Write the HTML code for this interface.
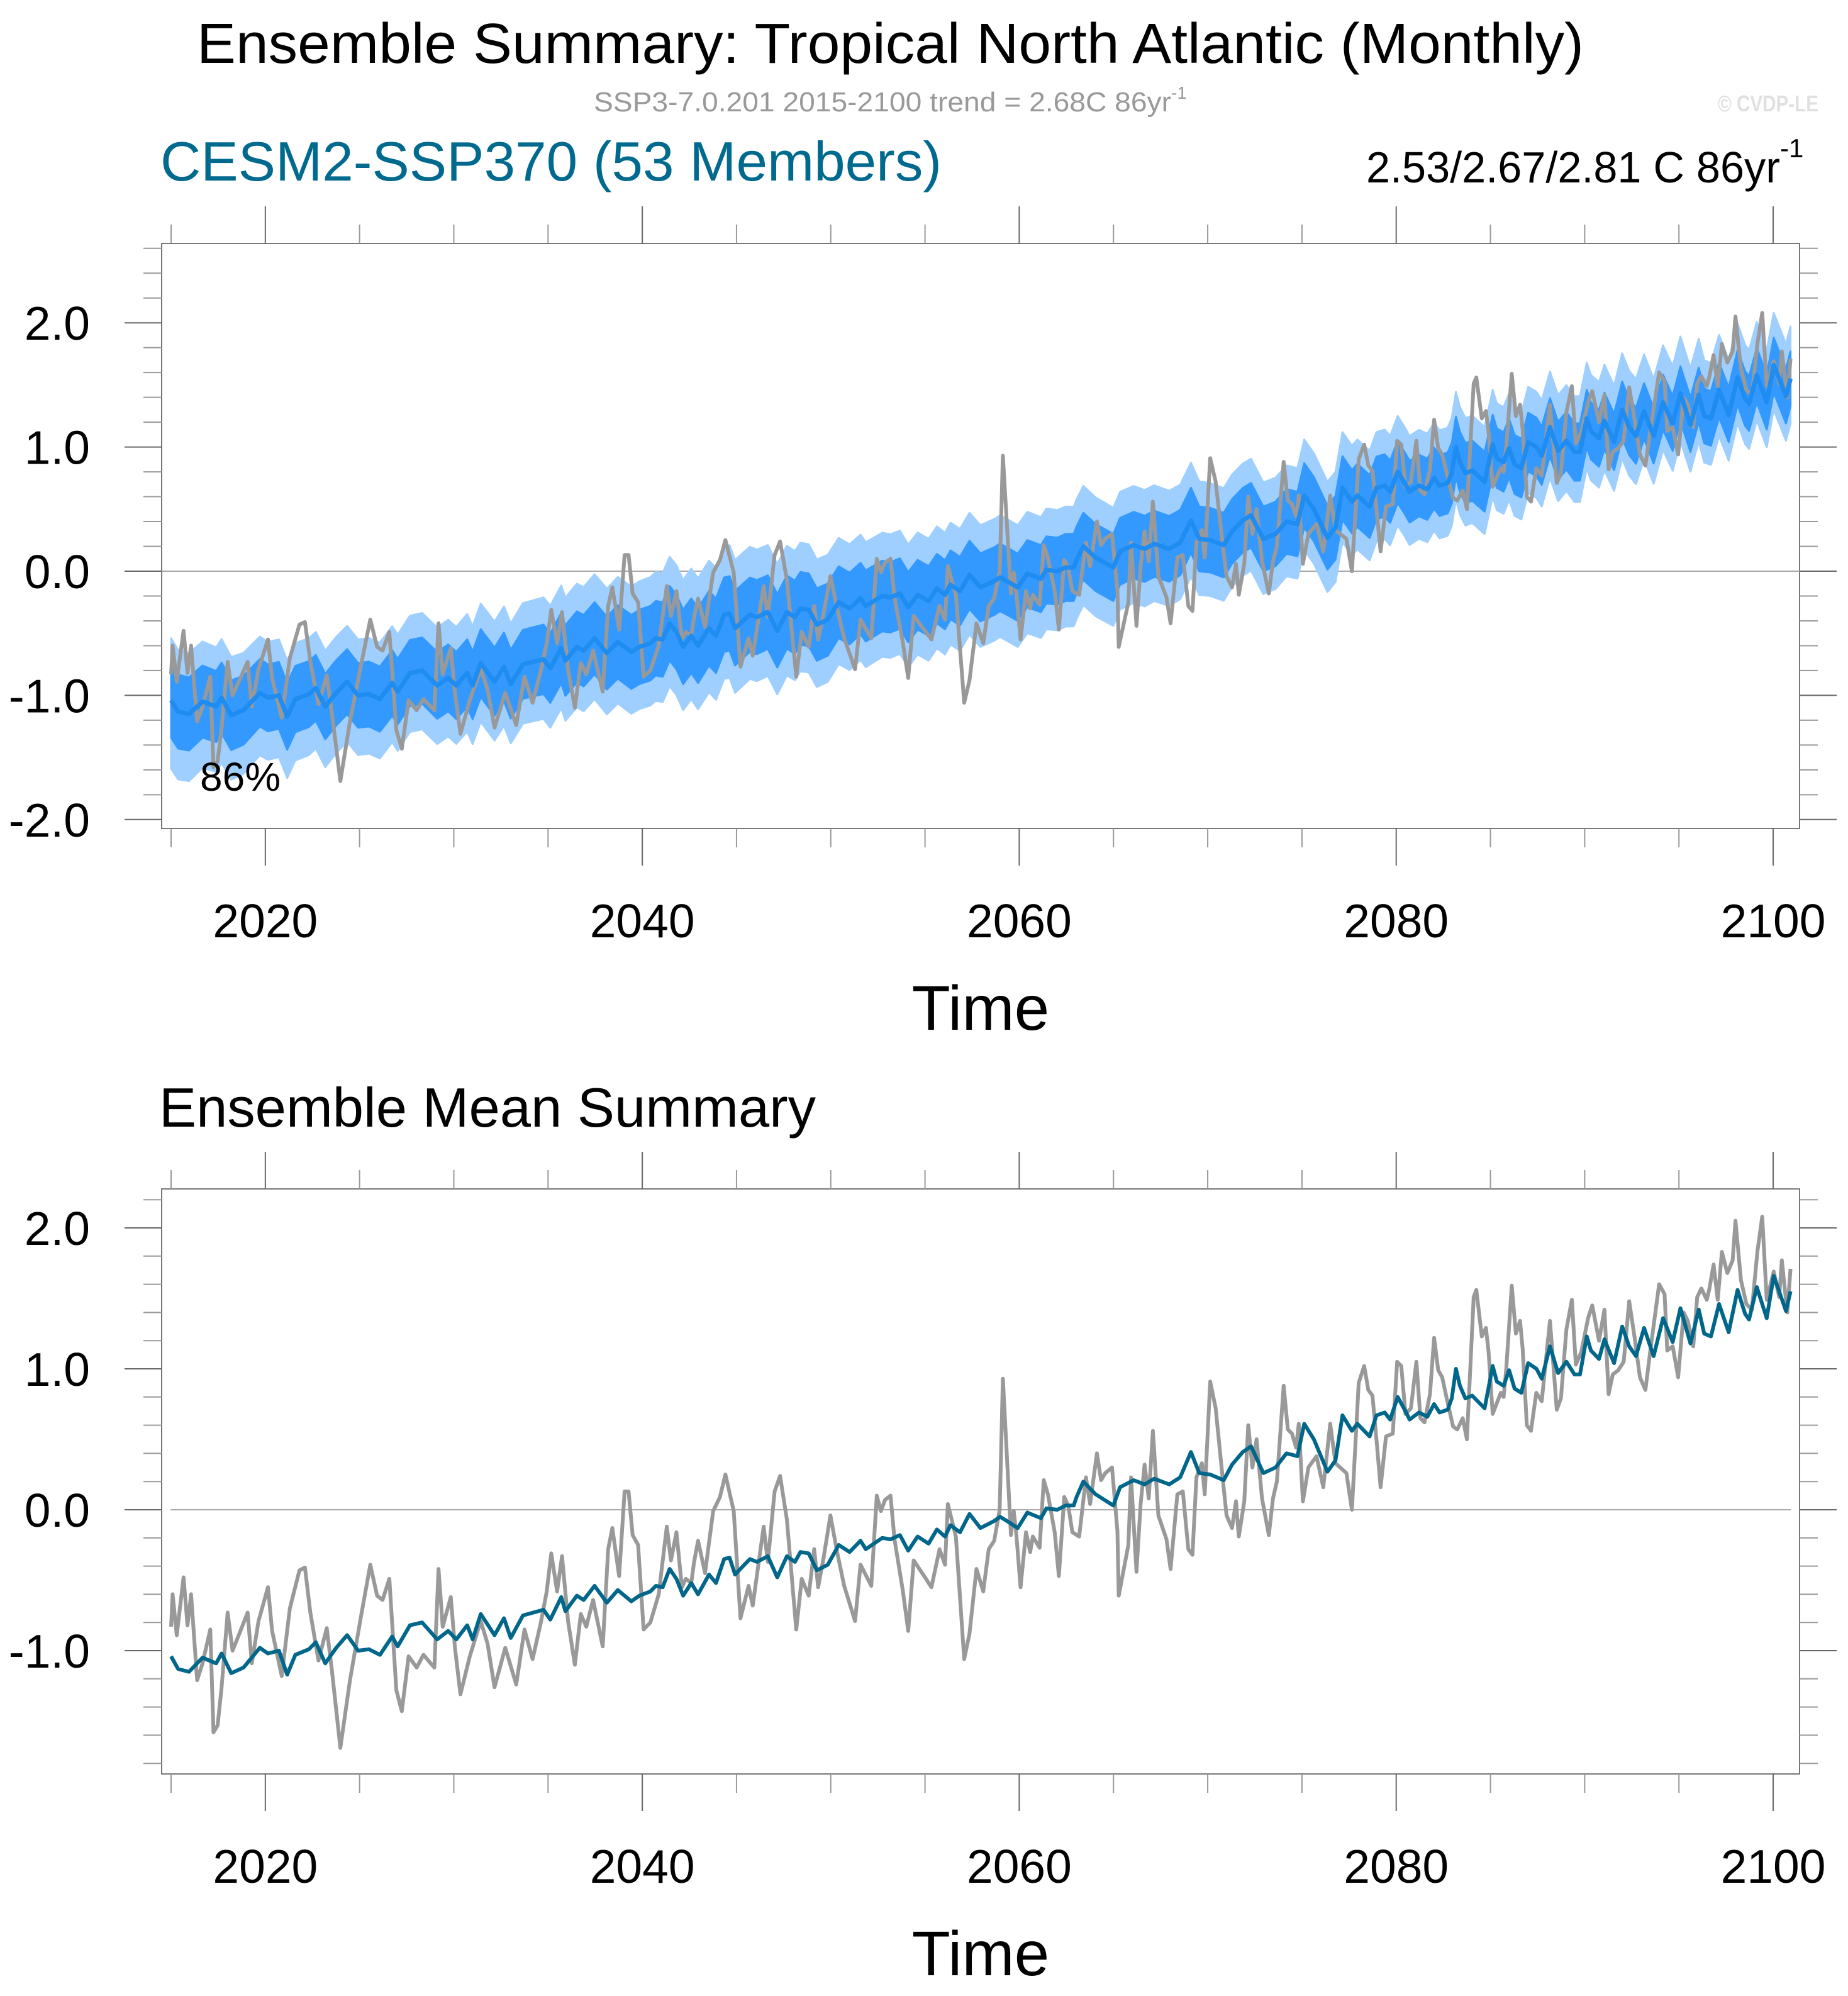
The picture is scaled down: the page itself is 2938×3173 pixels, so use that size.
<!DOCTYPE html>
<html><head><meta charset="utf-8">
<style>
html,body{margin:0;padding:0;background:#fff;}
svg{display:block;font-family:"Liberation Sans",Arial,sans-serif;}
</style></head>
<body>
<svg id="chart" xmlns="http://www.w3.org/2000/svg" width="2938" height="3173" viewBox="0 0 2938 3173">
  <rect x="0" y="0" width="2938" height="3173" fill="#fff"/>
  <text x="313" y="100" font-size="90" textLength="2205" lengthAdjust="spacingAndGlyphs" fill="#000">Ensemble Summary: Tropical North Atlantic (Monthly)</text>
  <text x="944" y="177" font-size="44" fill="#999"><tspan textLength="918" lengthAdjust="spacingAndGlyphs">SSP3-7.0.201 2015-2100 trend = 2.68C 86yr</tspan><tspan font-size="28" dy="-20">-1</tspan></text>
  <text x="2731" y="177" font-size="36" font-weight="bold" fill="#e0e0e0" textLength="160" lengthAdjust="spacingAndGlyphs">© CVDP-LE</text>
  <text x="255" y="287" font-size="88" textLength="1242" lengthAdjust="spacingAndGlyphs" fill="#006a8e">CESM2-SSP370 (53 Members)</text>
  <text x="2172" y="290" font-size="70" fill="#000"><tspan textLength="658" lengthAdjust="spacingAndGlyphs">2.53/2.67/2.81 C 86yr</tspan><tspan font-size="42" dy="-40">-1</tspan></text>
  <text x="253" y="1791" font-size="88" textLength="1044" lengthAdjust="spacingAndGlyphs" fill="#000">Ensemble Mean Summary</text>
  <g id="top"></g>
  <g id="bot"></g>
</svg>
<script>
// ---- data ----
const obsYears = [2015.00,2015.08,2015.30,2015.44,2015.66,2015.87,2016.06,2016.38,2016.67,2017.08,2017.25,2017.47,2017.68,2018.00,2018.26,2018.62,2019.06,2019.28,2019.64,2020.14,2020.36,2020.87,2021.30,2021.81,2022.10,2022.39,2022.82,2023.26,2023.54,2023.98,2024.49,2025.06,2025.57,2025.93,2026.22,2026.58,2026.95,2027.24,2027.60,2028.03,2028.39,2028.97,2029.19,2029.41,2029.84,2030.06,2030.35,2030.85,2031.43,2031.79,2032.16,2032.73,2033.31,2033.75,2034.18,2034.62,2034.93,2035.17,2035.48,2035.74,2036.06,2036.42,2036.74,2037.03,2037.39,2037.90,2038.19,2038.41,2038.77,2039.06,2039.27,2039.49,2039.78,2040.07,2040.43,2040.87,2041.30,2041.52,2041.81,2042.10,2042.31,2042.60,2042.75,2042.96,2043.33,2043.76,2044.12,2044.41,2044.85,2045.21,2045.64,2045.86,2046.44,2046.66,2047.02,2047.31,2047.67,2047.96,2048.17,2048.46,2048.83,2049.12,2049.33,2049.62,2049.98,2050.35,2050.71,2051.29,2051.58,2052.15,2052.44,2052.66,2052.88,2053.17,2053.38,2053.82,2054.11,2054.40,2054.90,2055.34,2055.77,2056.06,2056.21,2056.64,2057.08,2057.36,2057.73,2058.09,2058.38,2058.67,2058.96,2059.13,2059.35,2059.56,2059.71,2059.85,2060.07,2060.36,2060.58,2060.72,2061.08,2061.30,2061.52,2061.88,2062.10,2062.39,2062.60,2062.82,2063.18,2063.54,2063.76,2064.12,2064.34,2064.56,2064.92,2065.21,2065.28,2065.79,2065.93,2066.22,2066.44,2066.65,2066.87,2067.09,2067.38,2067.81,2068.03,2068.39,2068.68,2068.97,2069.19,2069.40,2069.69,2069.84,2070.13,2070.42,2070.71,2071.00,2071.29,2071.50,2071.65,2071.94,2072.15,2072.37,2072.59,2072.88,2073.24,2073.46,2073.67,2074.03,2074.25,2074.47,2074.69,2074.83,2075.05,2075.34,2075.77,2076.13,2076.50,2076.78,2077.36,2077.65,2078.01,2078.30,2078.52,2078.74,2078.95,2079.17,2079.46,2079.82,2080.05,2080.27,2080.49,2080.78,2081.07,2081.28,2081.50,2081.79,2082.01,2082.23,2082.44,2082.73,2083.02,2083.24,2083.53,2083.75,2084.11,2084.25,2084.54,2084.76,2084.90,2085.12,2085.55,2085.70,2085.84,2086.13,2086.35,2086.57,2086.71,2086.93,2087.15,2087.43,2087.72,2088.01,2088.16,2088.52,2088.74,2089.03,2089.32,2089.53,2089.82,2090.18,2090.40,2090.76,2091.05,2091.27,2091.49,2091.78,2092.07,2092.36,2092.64,2092.93,2093.22,2093.51,2093.95,2094.24,2094.38,2094.67,2094.96,2095.25,2095.47,2095.76,2095.97,2096.19,2096.48,2096.62,2096.84,2097.06,2097.28,2097.57,2097.85,2098.00,2098.29,2098.58,2098.87,2099.16,2099.42,2099.66,2100.03,2100.32,2100.46,2100.75,2100.92];
const obsVals = [-0.83,-0.60,-0.89,-0.73,-0.48,-0.82,-0.60,-1.21,-1.09,-0.85,-1.58,-1.53,-1.26,-0.73,-1.00,-0.88,-0.73,-1.09,-0.79,-0.55,-0.86,-1.18,-0.70,-0.43,-0.41,-0.73,-1.07,-0.84,-1.15,-1.69,-1.21,-0.77,-0.39,-0.61,-0.64,-0.49,-1.28,-1.43,-1.04,-1.12,-1.03,-1.12,-0.42,-0.83,-0.62,-0.98,-1.31,-1.04,-0.79,-0.95,-1.26,-0.98,-1.24,-0.85,-1.06,-0.80,-0.58,-0.31,-0.58,-0.33,-0.79,-1.10,-0.74,-0.83,-0.64,-0.97,-0.28,-0.13,-0.47,0.13,0.13,-0.18,-0.25,-0.85,-0.80,-0.60,-0.12,-0.36,-0.16,-0.55,-0.49,-0.52,-0.37,-0.22,-0.45,-0.01,0.09,0.25,-0.01,-0.77,-0.54,-0.68,-0.12,-0.37,0.13,0.24,-0.07,-0.52,-0.85,-0.49,-0.61,-0.28,-0.55,-0.34,-0.04,-0.31,-0.54,-0.79,-0.39,-0.54,0.10,-0.01,0.07,0.10,-0.21,-0.57,-0.86,-0.36,-0.46,-0.55,-0.28,-0.39,0.04,-0.19,-1.06,-0.88,-0.42,-0.58,-0.28,-0.22,0.00,0.93,0.37,-0.18,-0.01,-0.18,-0.55,-0.16,-0.30,-0.19,-0.27,0.21,0.11,-0.16,-0.47,0.09,0.03,-0.16,-0.19,0.23,0.04,0.40,0.21,0.26,0.30,-0.15,-0.61,-0.25,0.23,-0.44,0.04,0.32,0.08,0.56,-0.04,-0.21,-0.42,0.11,0.13,-0.28,-0.32,0.23,0.33,0.11,0.91,0.72,0.33,-0.04,-0.13,0.06,-0.19,0.06,0.60,0.30,0.50,0.08,-0.18,0.08,0.20,0.88,0.57,0.54,0.44,0.61,0.06,0.30,0.38,0.16,0.61,0.33,0.26,0.00,0.90,1.02,0.85,0.81,0.50,0.16,0.52,0.54,1.05,1.02,0.68,0.72,1.05,0.65,0.62,0.82,1.22,0.99,0.94,0.76,0.59,0.57,0.65,0.50,1.51,1.56,1.23,1.29,1.12,0.68,0.83,0.80,1.00,1.59,1.25,1.34,1.14,0.60,0.56,0.83,0.77,1.15,1.34,0.71,0.79,1.28,1.49,1.03,1.12,1.36,1.45,1.20,1.42,0.82,0.96,0.99,1.05,1.48,1.23,0.94,0.85,1.16,1.60,1.53,1.13,1.16,0.94,1.40,1.34,1.16,1.51,1.57,1.49,1.57,1.74,1.49,1.83,1.68,1.77,2.05,1.63,1.46,1.42,1.83,2.08,1.49,1.69,1.51,1.77,1.40,1.71];
const meanYears = [2015.00,2015.37,2015.95,2016.67,2017.39,2017.68,2018.19,2018.84,2019.71,2020.14,2020.72,2021.16,2021.59,2022.31,2022.68,2023.18,2023.76,2024.34,2024.92,2025.50,2026.08,2026.73,2027.02,2027.67,2028.32,2029.12,2029.70,2030.13,2030.71,2031.00,2031.43,2032.16,2032.66,2033.02,2033.67,2034.76,2035.12,2035.70,2035.92,2036.53,2036.89,2037.47,2038.12,2038.70,2039.42,2039.85,2040.43,2040.72,2041.08,2041.45,2041.81,2042.17,2042.60,2042.96,2043.54,2043.91,2044.34,2044.63,2044.92,2045.35,2045.71,2046.08,2046.66,2047.16,2047.67,2048.10,2048.39,2048.83,2049.26,2049.84,2050.42,2051.00,2051.58,2051.86,2052.73,2053.17,2053.67,2054.11,2054.61,2055.19,2055.63,2056.06,2056.35,2056.86,2057.36,2057.94,2058.67,2058.98,2059.35,2059.92,2060.43,2061.15,2061.44,2062.02,2062.46,2062.89,2063.04,2063.40,2064.05,2064.99,2065.35,2066.07,2066.65,2067.16,2067.96,2068.54,2069.11,2069.55,2070.13,2070.85,2071.29,2071.86,2072.30,2072.95,2073.60,2074.18,2074.76,2075.12,2075.63,2076.35,2076.78,2077.15,2077.65,2077.94,2078.59,2078.95,2079.39,2079.68,2080.08,2080.49,2080.71,2081.21,2081.65,2082.01,2082.30,2082.73,2082.95,2083.17,2083.38,2083.67,2084.03,2084.69,2085.12,2085.34,2085.70,2085.99,2086.28,2086.64,2087.00,2087.44,2087.72,2088.16,2088.59,2089.03,2089.46,2089.75,2090.11,2090.33,2090.76,2091.05,2091.56,2091.99,2092.36,2092.72,2093.15,2093.66,2094.16,2094.67,2095.08,2095.61,2096.05,2096.34,2096.70,2097.13,2097.64,2098.11,2098.51,2098.72,2099.13,2099.66,2100.03,2100.68,2100.92];
const meanVals = [-1.04,-1.13,-1.15,-1.05,-1.09,-1.02,-1.16,-1.12,-0.98,-1.02,-1.00,-1.17,-1.03,-0.99,-0.94,-1.09,-0.98,-0.89,-1.00,-0.99,-1.03,-0.90,-0.97,-0.82,-0.80,-0.92,-0.86,-0.92,-0.82,-0.92,-0.74,-0.89,-0.77,-0.91,-0.75,-0.71,-0.78,-0.62,-0.72,-0.61,-0.64,-0.54,-0.66,-0.57,-0.65,-0.61,-0.58,-0.54,-0.55,-0.42,-0.49,-0.61,-0.52,-0.60,-0.46,-0.52,-0.35,-0.34,-0.46,-0.40,-0.35,-0.37,-0.33,-0.48,-0.33,-0.37,-0.30,-0.31,-0.43,-0.39,-0.25,-0.30,-0.22,-0.28,-0.20,-0.21,-0.18,-0.29,-0.19,-0.24,-0.14,-0.19,-0.11,-0.16,-0.03,-0.13,-0.08,-0.05,-0.08,-0.13,-0.02,-0.06,0.01,0.00,0.03,0.03,0.09,0.20,0.11,0.03,0.16,0.21,0.18,0.22,0.18,0.23,0.41,0.26,0.25,0.21,0.32,0.41,0.45,0.26,0.30,0.40,0.38,0.61,0.50,0.27,0.35,0.67,0.56,0.61,0.52,0.67,0.69,0.64,0.80,0.70,0.64,0.69,0.66,0.75,0.69,0.71,0.79,1.00,0.88,0.79,0.81,0.72,1.02,0.91,0.88,0.99,0.86,0.83,1.04,1.00,0.93,1.16,0.97,1.05,0.96,0.96,1.23,1.13,1.07,1.21,1.04,1.30,1.16,1.09,1.29,1.09,1.36,1.19,1.43,1.18,1.42,1.25,1.23,1.46,1.26,1.56,1.39,1.35,1.58,1.36,1.66,1.41,1.55];
const spreadYears = [2015,2020,2025,2030,2035,2040,2045,2050,2055,2060,2065,2070,2075,2080,2085,2090,2095,2100];
const darkHalf = [0.30,0.27,0.26,0.27,0.28,0.30,0.30,0.29,0.28,0.27,0.27,0.26,0.26,0.25,0.24,0.23,0.22,0.22];
const lightUp = [0.50,0.45,0.45,0.47,0.50,0.53,0.55,0.52,0.50,0.50,0.48,0.46,0.45,0.45,0.44,0.45,0.46,0.42];
const lightDn = [0.55,0.50,0.48,0.47,0.48,0.50,0.52,0.50,0.48,0.48,0.47,0.45,0.44,0.43,0.42,0.40,0.38,0.36];
const xMajorTicks = [2020,2040,2060,2080,2100];
const yLabelsTop = ["-2.0","-1.0","0.0","1.0","2.0"];
const yLabelsBot = ["-1.0","0.0","1.0","2.0"];

const NS = "http://www.w3.org/2000/svg";
function mk(tag, attrs, parent){const e=document.createElementNS(NS,tag);for(const k in attrs)e.setAttribute(k,attrs[k]);parent.appendChild(e);return e;}
const X0=272, PX_PER_YR=29.965, LEFT=257, RIGHT=2861;
const xs = y => X0 + (y-2015)*PX_PER_YR;
function interp(yrs, vals, t){
  if(t<=yrs[0])return vals[0];
  for(let i=1;i<yrs.length;i++){if(t<=yrs[i]){const f=(t-yrs[i-1])/(yrs[i]-yrs[i-1]);return vals[i-1]+f*(vals[i]-vals[i-1]);}}
  return vals[vals.length-1];
}
function pathFrom(yrs, vals, ys){return yrs.map((t,i)=>(i?'L':'M')+xs(t).toFixed(1)+','+ys(vals[i]).toFixed(1)).join(' ');}

function panel(g, cfg){
  const ys = v => cfg.zeroY - v*cfg.pxPerUnit;
  const fr = mk('rect',{x:LEFT,y:cfg.top,width:RIGHT-LEFT,height:cfg.bottom-cfg.top,fill:'none',stroke:'#777','stroke-width':2},g);
  
  
  for(let k=Math.round(cfg.yMin*5); k<=Math.round(cfg.yMax*5); k++){
    const v=k/5, y=ys(v), major=(k%5===0);
    const t1=mk('line',{x1:major?198:228,x2:LEFT,y1:y,y2:y,stroke:major?'#666':'#999','stroke-width':2},g);
    
    
    const t2=mk('line',{x1:RIGHT,x2:major?2920:2890,y1:y,y2:y,stroke:major?'#666':'#999','stroke-width':2},g);
    
    
  }
  cfg.yLabels.forEach(lbl=>{
    const tx=mk('text',{x:143,y:ys(parseFloat(lbl))+27,'font-size':75,'text-anchor':'end',fill:'#000'},g);
    tx.textContent=lbl;
    
    
  });
  for(let yr=2015; yr<=2100; yr+=5){
    const x=xs(yr), major=xMajorTicks.includes(yr);
    const a=mk('line',{x1:x,x2:x,y1:cfg.bottom,y2:cfg.bottom+(major?59:30),stroke:major?'#666':'#999','stroke-width':2},g);
    
    
    const b=mk('line',{x1:x,x2:x,y1:cfg.top,y2:cfg.top-(major?59:30),stroke:major?'#666':'#999','stroke-width':2},g);
    
    
  }
  xMajorTicks.forEach(yr=>{
    const tx=mk('text',{x:xs(yr),y:cfg.bottom+173,'font-size':75,'text-anchor':'middle',fill:'#000'},g);
    tx.textContent=String(yr);
    
    
  });
  const tt=mk('text',{x:1559,y:cfg.bottom+320,'font-size':100,'text-anchor':'middle',fill:'#000'},g);
  tt.textContent='Time';
  
  
  const z=mk('line',{x1:cfg.zeroX1,x2:cfg.zeroX2,y1:ys(0),y2:ys(0),stroke:'#aaa','stroke-width':2},g);
  
  
  return ys;
}

// ---- top panel ----
const gTop=document.getElementById('top');


const ysT = panel(gTop,{prefix:'top',top:387,bottom:1317,zeroY:908,pxPerUnit:197.4,yMin:-2.0,yMax:2.6,yLabels:yLabelsTop,zeroX1:LEFT,zeroX2:RIGHT});
function bandPath(upFn, dnFn){
  let d='';
  meanYears.forEach((t,i)=>{d+=(i?'L':'M')+xs(t).toFixed(1)+','+ysT(meanVals[i]+upFn(t)).toFixed(1);});
  for(let i=meanYears.length-1;i>=0;i--){const t=meanYears[i];d+='L'+xs(t).toFixed(1)+','+ysT(meanVals[i]-dnFn(t)).toFixed(1);}
  return d+'Z';
}
const lb=mk('path',{d:bandPath(t=>interp(spreadYears,lightUp,t),t=>interp(spreadYears,lightDn,t)),fill:'#9fcfff',stroke:'#9fcfff','stroke-width':3,'stroke-linejoin':'round'},gTop);


const db=mk('path',{d:bandPath(t=>interp(spreadYears,darkHalf,t),t=>interp(spreadYears,darkHalf,t)),fill:'#3399ff',stroke:'#3399ff','stroke-width':3,'stroke-linejoin':'round'},gTop);


const ogT=mk('path',{d:pathFrom(obsYears,obsVals,ysT),fill:'none',stroke:'#999','stroke-width':6,'stroke-linejoin':'round'},gTop);


const mT=mk('path',{d:pathFrom(meanYears,meanVals,ysT),fill:'none',stroke:'#1e8cf0','stroke-width':7,'stroke-linejoin':'round'},gTop);


const pct=mk('text',{x:318,y:1257,'font-size':64,fill:'#000'},gTop);
pct.textContent='86%';



// ---- bottom panel ----
const gBot=document.getElementById('bot');


const ysB = panel(gBot,{prefix:'bottom',top:1890,bottom:2820,zeroY:2400,pxPerUnit:224,yMin:-1.8,yMax:2.2,yLabels:yLabelsBot,zeroX1:271,zeroX2:2847});
const ogB=mk('path',{d:pathFrom(obsYears,obsVals,ysB),fill:'none',stroke:'#999','stroke-width':6,'stroke-linejoin':'round'},gBot);


const mB=mk('path',{d:pathFrom(meanYears,meanVals,ysB),fill:'none',stroke:'#00668a','stroke-width':6,'stroke-linejoin':'round'},gBot);


</script>
</body></html>
